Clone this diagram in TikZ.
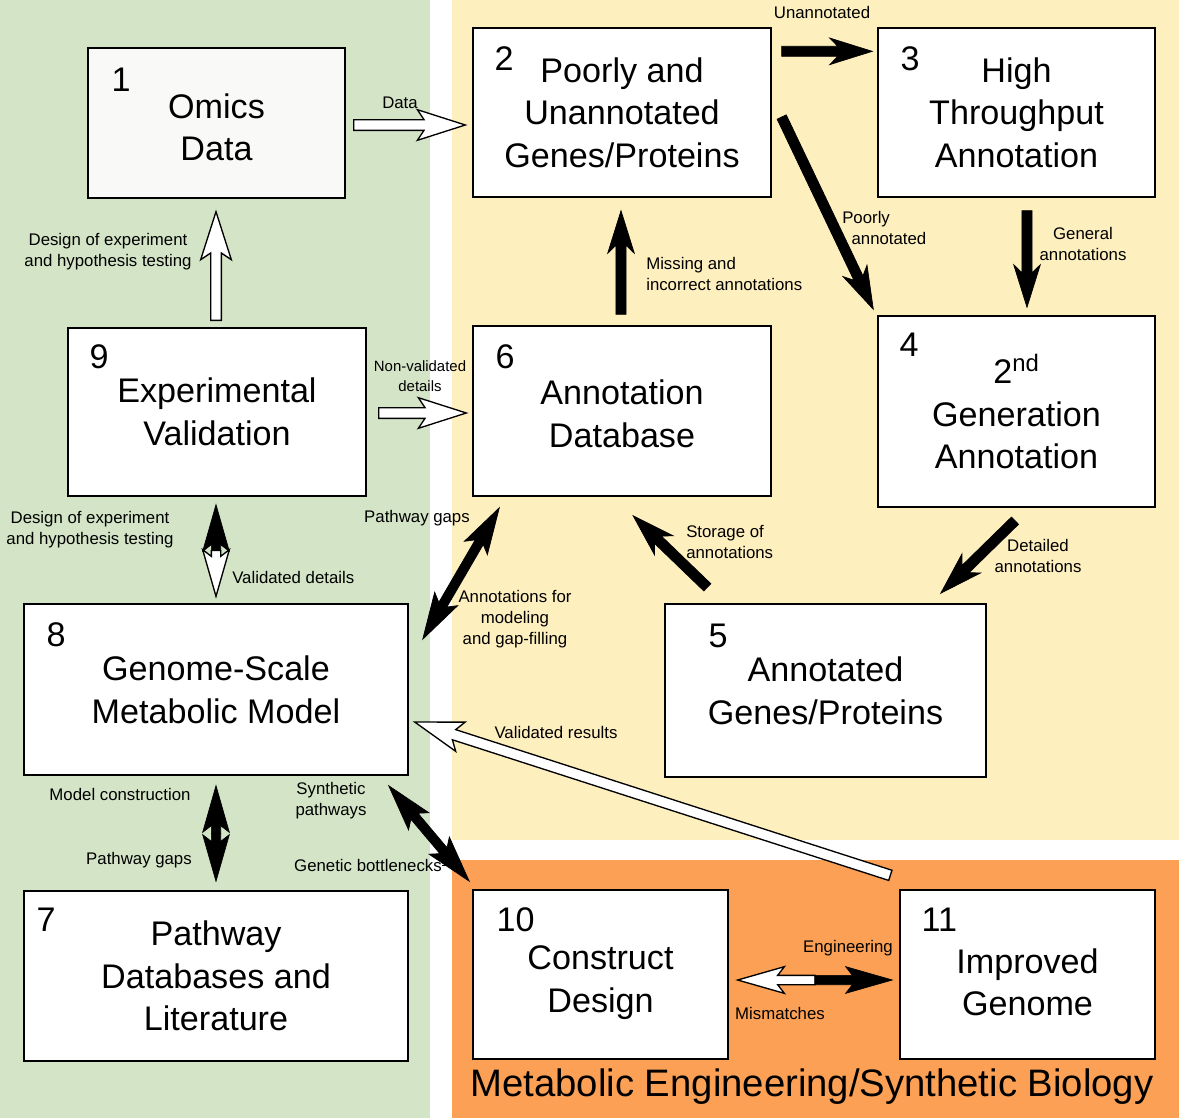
\documentclass[tikz,border=0pt]{standalone}
\usepackage{fontspec}
\setmainfont{Liberation Sans}
\usetikzlibrary{calc}

\definecolor{modelgreen}{RGB}{212,229,199}
\definecolor{annotyellow}{RGB}{254,239,191}
\definecolor{engorange}{RGB}{251,160,84}
\definecolor{omicsgray}{RGB}{249,249,248}

% block arrows: shaft half width, head half width, head length, inset
\def\aws{3.8pt}\def\awh{10pt}\def\awl{26pt}\def\awi{6pt}
\newcommand\blockarrow[3]{%
  \path[#1] let \p1=#2, \p2=#3, \n1={atan2(\y2-\y1,\x2-\x1)},
    \n2={veclen(\x2-\x1,\y2-\y1)} in [shift={(\p1)},rotate=\n1]
    (0pt,\aws) -- ({\n2-\awl},\aws) -- ({\n2-\awl-\awi},\awh) -- ({\n2+0pt},0pt)
    -- ({\n2-\awl-\awi},-\awh) -- ({\n2-\awl},-\aws) -- (0pt,-\aws) -- cycle;}
\newcommand\twowayarrow[4]{%
  \path[#1] let \p1=#3, \p2=#4, \n1={atan2(\y2-\y1,\x2-\x1)},
    \n2={veclen(\x2-\x1,\y2-\y1)} in [shift={(\p1)},rotate=\n1]
    (0pt,0pt) -- ({\awl+\awi},\awh) -- (\awl,\aws) -- ({\n2/2},\aws)
    -- ({\n2/2},-\aws) -- (\awl,-\aws) -- ({\awl+\awi},-\awh) -- cycle;
  \path[#2] let \p1=#3, \p2=#4, \n1={atan2(\y2-\y1,\x2-\x1)},
    \n2={veclen(\x2-\x1,\y2-\y1)} in [shift={(\p1)},rotate=\n1]
    ({\n2+0pt},0pt) -- ({\n2-\awl-\awi},\awh) -- ({\n2-\awl},\aws) -- ({\n2/2},\aws)
    -- ({\n2/2},-\aws) -- ({\n2-\awl},-\aws) -- ({\n2-\awl-\awi},-\awh) -- cycle;}
% taller first line, to set a box text a little lower
\newcommand\dropline[1]{\rule{0pt}{#1}}

\begin{document}
\begin{tikzpicture}[x=0.75pt,y=-0.75pt,
  box/.style={draw,line width=1pt,fill=white,align=center,inner sep=0pt,
    font=\fontsize{25.6}{32}\selectfont},
  sz/.style 2 args={minimum width=#1*0.75pt,minimum height=#2*0.75pt},
  num/.style={anchor=north west,inner sep=0pt,font=\fontsize{25.6}{32}\selectfont},
  lab/.style={align=center,inner sep=0pt,font=\fontsize{12.6}{15.8}\selectfont},
  adims/.code n args={4}{\def\aws{#1}\def\awh{#2}\def\awl{#3}\def\awi{#4}},
  blk/.style={draw=black,fill=black,line width=0.5pt,adims={3.8pt}{10pt}{26pt}{6pt}},
  wht/.style={draw=black,fill=white,line width=1pt,adims={4pt}{11.5pt}{31pt}{5pt}},
  dbl/.style={adims={3.5pt}{10pt}{30pt}{5pt}}]
\useasboundingbox (0,0) rectangle (1179,1118);
\fill[modelgreen] (0,0) rectangle (430,1118);
\fill[annotyellow] (452,0) rectangle (1179,840);
\fill[engorange] (452,860) rectangle (1179,1118);

\node[box,fill=omicsgray,sz={257}{150}] (omics) at (216.5,123) {\dropline{25pt}Omics\\Data};
\node[box,sz={298}{169}] (poorly) at (622,112.5) {Poorly and\\Unannotated\\Genes/Proteins};
\node[box,sz={277}{169}] (htp) at (1016.5,112.5) {High\\Throughput\\Annotation};
\node[box,sz={277}{191}] (second) at (1016.5,411.5) {2\textsuperscript{nd}\\Generation\\Annotation};
\node[box,sz={321}{173}] (annot) at (825.5,690.5) {Annotated\\Genes/Proteins};
\node[box,sz={298}{170}] (db) at (622,411) {\dropline{23pt}Annotation\\Database};
\node[box,sz={384}{170}] (pathdb) at (216,976) {Pathway\\Databases and\\Literature};
\node[box,sz={384}{171}] (gsmm) at (216,689.5) {Genome-Scale\\Metabolic Model};
\node[box,sz={298}{168}] (expval) at (217,412) {Experimental\\Validation};
\node[box,sz={255}{169}] (construct) at (600.5,974.5) {\dropline{30pt}Construct\\Design};
\node[box,sz={255}{169}] (improved) at (1027.5,974.5) {\dropline{30pt}Improved\\Genome};

\node[num] at ([shift={(24,20)}]omics.north west) {1};
\node[num] at ([shift={(22,19)}]poorly.north west) {2};
\node[num] at ([shift={(23,19)}]htp.north west) {3};
\node[num] at ([shift={(22,17)}]second.north west) {4};
\node[num] at ([shift={(44,20)}]annot.north west) {5};
\node[num] at ([shift={(23,19)}]db.north west) {6};
\node[num] at ([shift={(13,17)}]pathdb.north west) {7};
\node[num] at ([shift={(23,19)}]gsmm.north west) {8};
\node[num] at ([shift={(22,17)}]expval.north west) {9};
\node[num] at ([shift={(24,18)}]construct.north west) {10};
\node[num] at ([shift={(22,18)}]improved.north west) {11};

\blockarrow{wht}{([shift={(8,2)}]omics.east)}{([shift={(-7,12.5)}]poorly.west)}
\blockarrow{blk}{([shift={(10,24)}]poorly.north east)}{([shift={(-5,24)}]htp.north west)}
\blockarrow{blk}{([shift={(10,4.5)}]poorly.east)}{([shift={(-4,-6)}]second.north west)}
\blockarrow{blk}{([shift={(10.5,13)}]htp.south)}{([shift={(10.5,-8)}]second.north)}
\blockarrow{blk}{([shift={(-1.5,13)}]second.south)}{([shift={(-46,-10)}]annot.north east)}
\blockarrow{blk}{([shift={(43,-16)}]annot.north west)}{([shift={(11,19)}]db.south)}
\blockarrow{blk}{([shift={(-1,-11)}]db.north)}{([shift={(-1,13)}]poorly.south)}
\blockarrow{wht}{([shift={(-1,-7)}]expval.north)}{([shift={(-0.5,13)}]omics.south)}
\blockarrow{wht}{([shift={(12,1)}]expval.east)}{([shift={(-6,2)}]db.west)}
\twowayarrow{blk,dbl}{wht,dbl}{([shift={(-1,8)}]expval.south)}{([shift={(0,-7)}]gsmm.north)}
\twowayarrow{blk,dbl}{blk,dbl}{([shift={(27,11)}]db.south west)}{([shift={(14,36)}]gsmm.north east)}
\twowayarrow{blk,dbl}{blk,dbl}{([shift={(0,10)}]gsmm.south)}{([shift={(0,-9)}]pathdb.north)}
\twowayarrow{blk,dbl}{blk,dbl}{([shift={(-20,10)}]gsmm.south east)}{([shift={(-3,-8)}]construct.north west)}
\blockarrow{wht}{([shift={(-9,-14)}]improved.north west)}{([shift={(6,32.5)}]gsmm.east)}
\twowayarrow{wht,dbl}{blk,dbl}{([shift={(9,5.5)}]construct.east)}{([shift={(-7,5.5)}]improved.west)}

\node[lab] (lunann) at (822,12) {Unannotated};
\node[lab] (ldata) at (400,103) {Data};
\node[lab,align=left,anchor=west] (lpoor) at (842,228) {Poorly\\\hspace*{7pt}annotated};
\node[lab] (lgen) at (1083,244) {General\\annotations};
\node[lab,align=left,anchor=west] (lmiss) at (646,274) {Missing and\\incorrect annotations};
\node[lab] (ldet) at (1038,556) {Detailed\\annotations};
\node[lab,align=left,anchor=west] (lstore) at (686,542) {Storage of\\annotations};
\node[lab,font=\fontsize{11.2}{15}\selectfont] (lnonval) at (420,376) {Non-validated\\details};
\node[lab] (ldesign) at (108,252) {Design of experiment\\and hypothesis testing};
\node[lab] (ldesign2) at (90,530) {Design of experiment\\and hypothesis testing};
\node[lab,anchor=west] (lvaldet) at (232,577) {Validated details};
\node[lab] (lgaps) at (417,518) {Pathway gaps};
\node[lab] (lannmod) at (515,619) {Annotations for\\modeling\\and gap-filling};
\node[lab] (lvalres) at (556,732) {Validated results};
\node[lab] (lmodel) at (120,794) {Model construction};
\node[lab] (lsynth) at (331,801) {Synthetic\\pathways};
\node[lab] (lgaps2) at (139,860) {Pathway gaps};
\node[lab] (lbottle) at (368,865) {Genetic bottlenecks};
\draw[line width=0.6pt] (lbottle.east) -- ++(12,0);
\node[lab] (leng) at (848,948) {Engineering};
\node[lab] (lmis) at (780,1013) {Mismatches};
\node[inner sep=0pt,font=\fontsize{28.7}{34}\selectfont] (ltitle) at (812,1087)
  {Metabolic Engineering/Synthetic Biology};
\end{tikzpicture}
\end{document}
